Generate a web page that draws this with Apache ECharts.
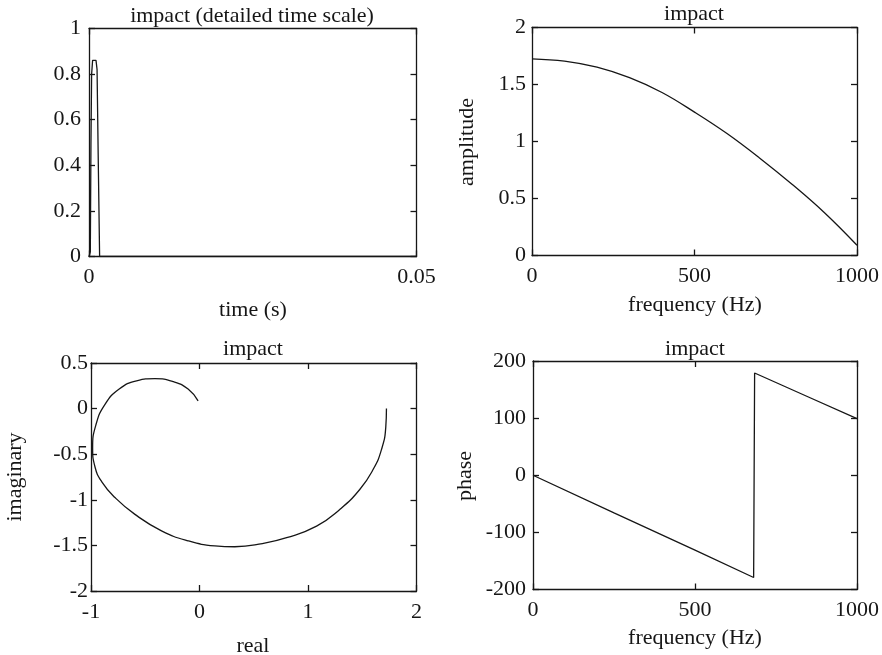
<!DOCTYPE html>
<html>
<head>
<meta charset="utf-8">
<script src="https://cdn.jsdelivr.net/npm/echarts@6/dist/echarts.min.js"></script>
<style>
  html, body { margin: 0; padding: 0; background: #fff; }
  #chart { width: 882px; height: 655px; }
</style>
</head>
<body>
<div id="chart"></div>
<script>
// Impact force pulse (time domain)
const pulseTime  = [0, 0.0002, 0.0003, 0.0004, 0.00055, 0.0008, 0.00107, 0.00123, 0.0014, 0.00162, 0.05];
const pulseForce = [0, 0.02, 0.5, 0.8, 0.86, 0.865, 0.86, 0.82, 0.45, 0, 0];

// Spectrum amplitude
const ampFreq  = [0, 100, 200, 300, 400, 500, 600, 700, 800, 900, 1000];
const ampValue = [1.725, 1.705, 1.652, 1.56, 1.43, 1.258, 1.07, 0.856, 0.625, 0.375, 0.09];

// Spectrum in the complex plane (real, imaginary)
const nyqReal = [1.723, 1.717, 1.677, 1.600, 1.477, 1.293, 1.079, 0.803, 0.58, 0.325, 0.141, -0.105, -0.35, -0.595, -0.779, -0.902, -0.963, -0.985, -0.955, -0.871, -0.74, -0.58, -0.411, -0.24, -0.105, -0.013];
const nyqImag = [0, -0.2, -0.45, -0.668, -0.887, -1.106, -1.289, -1.416, -1.48, -1.515, -1.505, -1.45, -1.34, -1.16, -0.975, -0.80, -0.64, -0.43, -0.18, 0.047, 0.215, 0.305, 0.328, 0.295, 0.214, 0.084];

// Spectrum phase (degrees)
const phaseFreq = [0, 250, 500, 681, 684, 850, 1000];
const phaseDeg  = [0, -66, -131, -179, 179, 137, 99];

// Axis ticks
const pulseTimeTicks  = [0, 0.05];
const pulseForceTicks = [0, 0.2, 0.4, 0.6, 0.8, 1];
const freqTicks       = [0, 500, 1000];
const ampTicks        = [0, 0.5, 1, 1.5, 2];
const realTicks       = [-1, 0, 1, 2];
const imagTicks       = [-2, -1.5, -1, -0.5, 0, 0.5];
const phaseTicks      = [-200, -100, 0, 100, 200];

const FONT = '"Liberation Serif", "Times New Roman", serif';
const INK = '#161616';
const FS = 22;

const grids = [
  { left: 89,  top: 28.5, width: 327.5, height: 228 },
  { left: 532, top: 27.5, width: 325,   height: 228 },
  { left: 91,  top: 363,  width: 325.5, height: 228 },
  { left: 533, top: 361,  width: 325,   height: 228.5 }
];

function zip(a, b) { return a.map((v, i) => [v, b[i]]); }

// A boxed frame: labelled bottom/left axis plus a mirrored top/right axis, ticks pointing inward
function axisPair(kind, gridIndex, ticks, labelMargin) {
  const base = {
    type: 'value',
    gridIndex: gridIndex,
    min: ticks[0],
    max: ticks[ticks.length - 1],
    interval: ticks[1] - ticks[0],
    splitLine: { show: false },
    axisLine: { show: true, onZero: false, lineStyle: { color: INK, width: 1.3 } },
    axisTick: { show: true, inside: true, length: 6, lineStyle: { color: INK, width: 1.3 } }
  };
  const main = Object.assign({}, base, {
    position: kind === 'x' ? 'bottom' : 'left',
    axisLabel: {
      show: true, margin: labelMargin, color: INK,
      fontFamily: FONT, fontSize: FS,
      showMinLabel: true, showMaxLabel: true,
      formatter: v => String(v)
    }
  });
  const mirror = Object.assign({}, base, {
    position: kind === 'x' ? 'top' : 'right',
    axisLabel: { show: false }
  });
  return [main, mirror];
}

const xAxes = [].concat(
  axisPair('x', 0, pulseTimeTicks, 10),
  axisPair('x', 1, freqTicks, 10),
  axisPair('x', 2, realTicks, 10),
  axisPair('x', 3, freqTicks, 10)
);
const yAxes = [].concat(
  axisPair('y', 0, pulseForceTicks, 8),
  axisPair('y', 1, ampTicks, 6),
  axisPair('y', 2, imagTicks, 3),
  axisPair('y', 3, phaseTicks, 7)
);

function curve(i, data, smooth) {
  return {
    type: 'line',
    xAxisIndex: 2 * i,
    yAxisIndex: 2 * i,
    data: data,
    smooth: smooth,
    showSymbol: false,
    symbol: 'none',
    lineStyle: { color: INK, width: 1.3 },
    animation: false
  };
}

function label(text, x, y, rotate) {
  return {
    type: 'text',
    x: x, y: y,
    rotation: rotate ? Math.PI / 2 : 0,
    style: {
      text: text, fill: INK,
      font: FS + 'px ' + FONT,
      textAlign: 'center',
      textVerticalAlign: 'middle'
    }
  };
}

const chart = echarts.init(document.getElementById('chart'), null, { renderer: 'canvas' });
chart.setOption({
  backgroundColor: '#ffffff',
  animation: false,
  grid: grids.map(g => Object.assign({ containLabel: false }, g)),
  xAxis: xAxes,
  yAxis: yAxes,
  series: [
    curve(0, zip(pulseTime, pulseForce), false),
    curve(1, zip(ampFreq, ampValue), 0.4),
    curve(2, zip(nyqReal, nyqImag), 0.5),
    curve(3, zip(phaseFreq, phaseDeg), false)
  ],
  graphic: [
    label('impact (detailed time scale)', 252, 16),
    label('impact', 694, 14.5),
    label('impact', 253, 349),
    label('impact', 695, 349.5),
    label('time (s)', 253, 310),
    label('frequency (Hz)', 695, 305),
    label('real', 253, 646),
    label('frequency (Hz)', 695, 638),
    label('amplitude', 467.5, 142, true),
    label('imaginary', 15, 477, true),
    label('phase', 465.5, 476, true)
  ]
});
</script>
</body>
</html>
